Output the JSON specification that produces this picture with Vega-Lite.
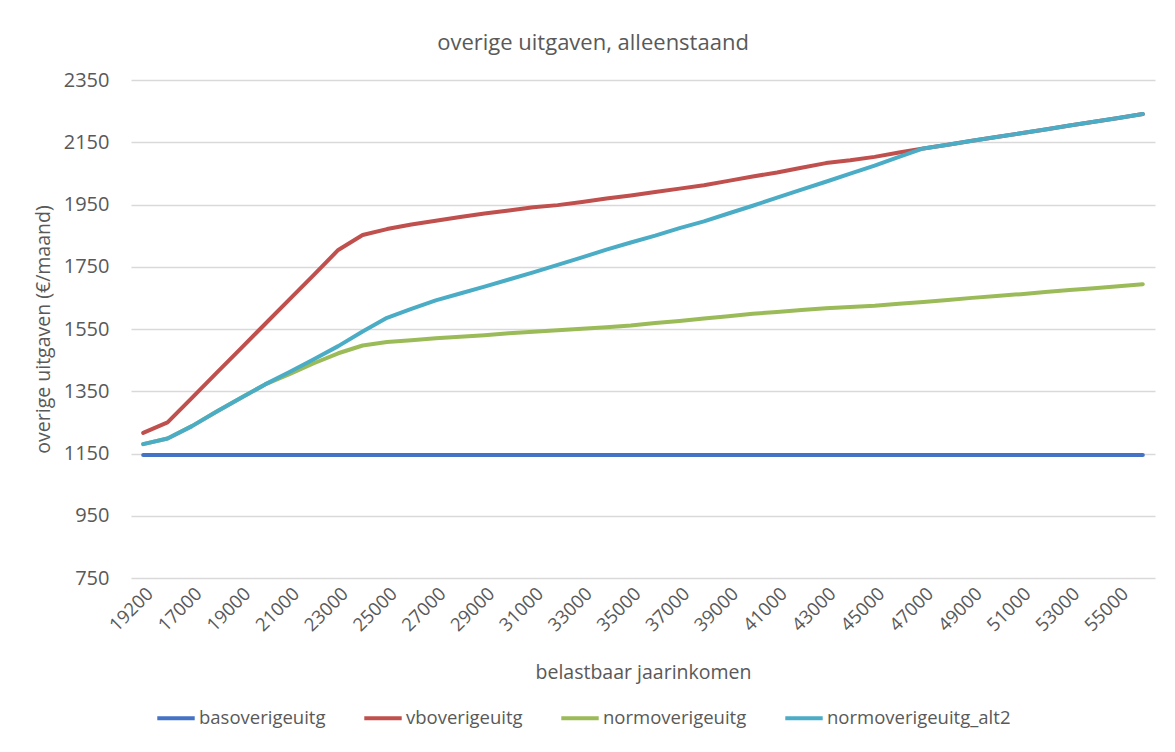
{
  "$schema": "https://vega.github.io/schema/vega-lite/v6.json",
  "width": 1024,
  "height": 498,
  "autosize": {"type": "none"},
  "padding": {"left": 131, "top": 80, "right": 20, "bottom": 174},
  "background": "white",
  "config": {
    "font": "Open Sans",
    "view": {"stroke": null},
    "axis": {"labelColor": "#595959", "titleColor": "#595959", "titleFontWeight": "normal"}
  },
  "title": {"text": "overige uitgaven, alleenstaand", "fontSize": 22, "fontWeight": "normal", "color": "#595959", "dx": -50, "offset": 15},
  "data": {
    "values": [
      {"inkomen":"19200","serie":"basoverigeuitg","waarde":1145},{"inkomen":"16000","serie":"basoverigeuitg","waarde":1145},{"inkomen":"17000","serie":"basoverigeuitg","waarde":1145},{"inkomen":"18000","serie":"basoverigeuitg","waarde":1145},{"inkomen":"19000","serie":"basoverigeuitg","waarde":1145},{"inkomen":"20000","serie":"basoverigeuitg","waarde":1145},{"inkomen":"21000","serie":"basoverigeuitg","waarde":1145},{"inkomen":"22000","serie":"basoverigeuitg","waarde":1145},{"inkomen":"23000","serie":"basoverigeuitg","waarde":1145},{"inkomen":"24000","serie":"basoverigeuitg","waarde":1145},{"inkomen":"25000","serie":"basoverigeuitg","waarde":1145},{"inkomen":"26000","serie":"basoverigeuitg","waarde":1145},{"inkomen":"27000","serie":"basoverigeuitg","waarde":1145},{"inkomen":"28000","serie":"basoverigeuitg","waarde":1145},{"inkomen":"29000","serie":"basoverigeuitg","waarde":1145},{"inkomen":"30000","serie":"basoverigeuitg","waarde":1145},{"inkomen":"31000","serie":"basoverigeuitg","waarde":1145},{"inkomen":"32000","serie":"basoverigeuitg","waarde":1145},{"inkomen":"33000","serie":"basoverigeuitg","waarde":1145},{"inkomen":"34000","serie":"basoverigeuitg","waarde":1145},{"inkomen":"35000","serie":"basoverigeuitg","waarde":1145},{"inkomen":"36000","serie":"basoverigeuitg","waarde":1145},{"inkomen":"37000","serie":"basoverigeuitg","waarde":1145},{"inkomen":"38000","serie":"basoverigeuitg","waarde":1145},{"inkomen":"39000","serie":"basoverigeuitg","waarde":1145},{"inkomen":"40000","serie":"basoverigeuitg","waarde":1145},{"inkomen":"41000","serie":"basoverigeuitg","waarde":1145},{"inkomen":"42000","serie":"basoverigeuitg","waarde":1145},{"inkomen":"43000","serie":"basoverigeuitg","waarde":1145},{"inkomen":"44000","serie":"basoverigeuitg","waarde":1145},{"inkomen":"45000","serie":"basoverigeuitg","waarde":1145},{"inkomen":"46000","serie":"basoverigeuitg","waarde":1145},{"inkomen":"47000","serie":"basoverigeuitg","waarde":1145},{"inkomen":"48000","serie":"basoverigeuitg","waarde":1145},{"inkomen":"49000","serie":"basoverigeuitg","waarde":1145},{"inkomen":"50000","serie":"basoverigeuitg","waarde":1145},{"inkomen":"51000","serie":"basoverigeuitg","waarde":1145},{"inkomen":"52000","serie":"basoverigeuitg","waarde":1145},{"inkomen":"53000","serie":"basoverigeuitg","waarde":1145},{"inkomen":"54000","serie":"basoverigeuitg","waarde":1145},{"inkomen":"55000","serie":"basoverigeuitg","waarde":1145},{"inkomen":"56000","serie":"basoverigeuitg","waarde":1145},

      {"inkomen":"19200","serie":"vboverigeuitg","waarde":1216},{"inkomen":"16000","serie":"vboverigeuitg","waarde":1250},{"inkomen":"17000","serie":"vboverigeuitg","waarde":1329},{"inkomen":"18000","serie":"vboverigeuitg","waarde":1408},{"inkomen":"19000","serie":"vboverigeuitg","waarde":1487},{"inkomen":"20000","serie":"vboverigeuitg","waarde":1566},{"inkomen":"21000","serie":"vboverigeuitg","waarde":1645},{"inkomen":"22000","serie":"vboverigeuitg","waarde":1724},{"inkomen":"23000","serie":"vboverigeuitg","waarde":1804},{"inkomen":"24000","serie":"vboverigeuitg","waarde":1852},{"inkomen":"25000","serie":"vboverigeuitg","waarde":1871},{"inkomen":"26000","serie":"vboverigeuitg","waarde":1886},{"inkomen":"27000","serie":"vboverigeuitg","waarde":1898},{"inkomen":"28000","serie":"vboverigeuitg","waarde":1910},{"inkomen":"29000","serie":"vboverigeuitg","waarde":1921},{"inkomen":"30000","serie":"vboverigeuitg","waarde":1931},{"inkomen":"31000","serie":"vboverigeuitg","waarde":1941},{"inkomen":"32000","serie":"vboverigeuitg","waarde":1948},{"inkomen":"33000","serie":"vboverigeuitg","waarde":1958},{"inkomen":"34000","serie":"vboverigeuitg","waarde":1969},{"inkomen":"35000","serie":"vboverigeuitg","waarde":1979},{"inkomen":"36000","serie":"vboverigeuitg","waarde":1990},{"inkomen":"37000","serie":"vboverigeuitg","waarde":2001},{"inkomen":"38000","serie":"vboverigeuitg","waarde":2012},{"inkomen":"39000","serie":"vboverigeuitg","waarde":2026},{"inkomen":"40000","serie":"vboverigeuitg","waarde":2040},{"inkomen":"41000","serie":"vboverigeuitg","waarde":2053},{"inkomen":"42000","serie":"vboverigeuitg","waarde":2068},{"inkomen":"43000","serie":"vboverigeuitg","waarde":2083},{"inkomen":"44000","serie":"vboverigeuitg","waarde":2092},{"inkomen":"45000","serie":"vboverigeuitg","waarde":2103},{"inkomen":"46000","serie":"vboverigeuitg","waarde":2117},{"inkomen":"47000","serie":"vboverigeuitg","waarde":2130},{"inkomen":"48000","serie":"vboverigeuitg","waarde":2142},{"inkomen":"49000","serie":"vboverigeuitg","waarde":2155},{"inkomen":"50000","serie":"vboverigeuitg","waarde":2167},{"inkomen":"51000","serie":"vboverigeuitg","waarde":2179},{"inkomen":"52000","serie":"vboverigeuitg","waarde":2191},{"inkomen":"53000","serie":"vboverigeuitg","waarde":2204},{"inkomen":"54000","serie":"vboverigeuitg","waarde":2216},{"inkomen":"55000","serie":"vboverigeuitg","waarde":2228},{"inkomen":"56000","serie":"vboverigeuitg","waarde":2241},

      {"inkomen":"19200","serie":"normoverigeuitg","waarde":1180},{"inkomen":"16000","serie":"normoverigeuitg","waarde":1198},{"inkomen":"17000","serie":"normoverigeuitg","waarde":1238},{"inkomen":"18000","serie":"normoverigeuitg","waarde":1284},{"inkomen":"19000","serie":"normoverigeuitg","waarde":1328},{"inkomen":"20000","serie":"normoverigeuitg","waarde":1372},{"inkomen":"21000","serie":"normoverigeuitg","waarde":1405},{"inkomen":"22000","serie":"normoverigeuitg","waarde":1440},{"inkomen":"23000","serie":"normoverigeuitg","waarde":1472},{"inkomen":"24000","serie":"normoverigeuitg","waarde":1497},{"inkomen":"25000","serie":"normoverigeuitg","waarde":1508},{"inkomen":"26000","serie":"normoverigeuitg","waarde":1514},{"inkomen":"27000","serie":"normoverigeuitg","waarde":1520},{"inkomen":"28000","serie":"normoverigeuitg","waarde":1525},{"inkomen":"29000","serie":"normoverigeuitg","waarde":1530},{"inkomen":"30000","serie":"normoverigeuitg","waarde":1536},{"inkomen":"31000","serie":"normoverigeuitg","waarde":1541},{"inkomen":"32000","serie":"normoverigeuitg","waarde":1546},{"inkomen":"33000","serie":"normoverigeuitg","waarde":1551},{"inkomen":"34000","serie":"normoverigeuitg","waarde":1556},{"inkomen":"35000","serie":"normoverigeuitg","waarde":1561},{"inkomen":"36000","serie":"normoverigeuitg","waarde":1569},{"inkomen":"37000","serie":"normoverigeuitg","waarde":1576},{"inkomen":"38000","serie":"normoverigeuitg","waarde":1584},{"inkomen":"39000","serie":"normoverigeuitg","waarde":1591},{"inkomen":"40000","serie":"normoverigeuitg","waarde":1599},{"inkomen":"41000","serie":"normoverigeuitg","waarde":1605},{"inkomen":"42000","serie":"normoverigeuitg","waarde":1611},{"inkomen":"43000","serie":"normoverigeuitg","waarde":1617},{"inkomen":"44000","serie":"normoverigeuitg","waarde":1621},{"inkomen":"45000","serie":"normoverigeuitg","waarde":1625},{"inkomen":"46000","serie":"normoverigeuitg","waarde":1631},{"inkomen":"47000","serie":"normoverigeuitg","waarde":1637},{"inkomen":"48000","serie":"normoverigeuitg","waarde":1643},{"inkomen":"49000","serie":"normoverigeuitg","waarde":1650},{"inkomen":"50000","serie":"normoverigeuitg","waarde":1656},{"inkomen":"51000","serie":"normoverigeuitg","waarde":1662},{"inkomen":"52000","serie":"normoverigeuitg","waarde":1669},{"inkomen":"53000","serie":"normoverigeuitg","waarde":1675},{"inkomen":"54000","serie":"normoverigeuitg","waarde":1681},{"inkomen":"55000","serie":"normoverigeuitg","waarde":1687},{"inkomen":"56000","serie":"normoverigeuitg","waarde":1694},

      {"inkomen":"19200","serie":"normoverigeuitg_alt2","waarde":1180},{"inkomen":"16000","serie":"normoverigeuitg_alt2","waarde":1198},{"inkomen":"17000","serie":"normoverigeuitg_alt2","waarde":1238},{"inkomen":"18000","serie":"normoverigeuitg_alt2","waarde":1284},{"inkomen":"19000","serie":"normoverigeuitg_alt2","waarde":1328},{"inkomen":"20000","serie":"normoverigeuitg_alt2","waarde":1372},{"inkomen":"21000","serie":"normoverigeuitg_alt2","waarde":1412},{"inkomen":"22000","serie":"normoverigeuitg_alt2","waarde":1453},{"inkomen":"23000","serie":"normoverigeuitg_alt2","waarde":1495},{"inkomen":"24000","serie":"normoverigeuitg_alt2","waarde":1542},{"inkomen":"25000","serie":"normoverigeuitg_alt2","waarde":1586},{"inkomen":"26000","serie":"normoverigeuitg_alt2","waarde":1615},{"inkomen":"27000","serie":"normoverigeuitg_alt2","waarde":1642},{"inkomen":"28000","serie":"normoverigeuitg_alt2","waarde":1664},{"inkomen":"29000","serie":"normoverigeuitg_alt2","waarde":1686},{"inkomen":"30000","serie":"normoverigeuitg_alt2","waarde":1709},{"inkomen":"31000","serie":"normoverigeuitg_alt2","waarde":1732},{"inkomen":"32000","serie":"normoverigeuitg_alt2","waarde":1756},{"inkomen":"33000","serie":"normoverigeuitg_alt2","waarde":1780},{"inkomen":"34000","serie":"normoverigeuitg_alt2","waarde":1805},{"inkomen":"35000","serie":"normoverigeuitg_alt2","waarde":1828},{"inkomen":"36000","serie":"normoverigeuitg_alt2","waarde":1850},{"inkomen":"37000","serie":"normoverigeuitg_alt2","waarde":1874},{"inkomen":"38000","serie":"normoverigeuitg_alt2","waarde":1896},{"inkomen":"39000","serie":"normoverigeuitg_alt2","waarde":1921},{"inkomen":"40000","serie":"normoverigeuitg_alt2","waarde":1946},{"inkomen":"41000","serie":"normoverigeuitg_alt2","waarde":1972},{"inkomen":"42000","serie":"normoverigeuitg_alt2","waarde":1998},{"inkomen":"43000","serie":"normoverigeuitg_alt2","waarde":2023},{"inkomen":"44000","serie":"normoverigeuitg_alt2","waarde":2049},{"inkomen":"45000","serie":"normoverigeuitg_alt2","waarde":2075},{"inkomen":"46000","serie":"normoverigeuitg_alt2","waarde":2103},{"inkomen":"47000","serie":"normoverigeuitg_alt2","waarde":2130},{"inkomen":"48000","serie":"normoverigeuitg_alt2","waarde":2142},{"inkomen":"49000","serie":"normoverigeuitg_alt2","waarde":2155},{"inkomen":"50000","serie":"normoverigeuitg_alt2","waarde":2167},{"inkomen":"51000","serie":"normoverigeuitg_alt2","waarde":2179},{"inkomen":"52000","serie":"normoverigeuitg_alt2","waarde":2191},{"inkomen":"53000","serie":"normoverigeuitg_alt2","waarde":2204},{"inkomen":"54000","serie":"normoverigeuitg_alt2","waarde":2216},{"inkomen":"55000","serie":"normoverigeuitg_alt2","waarde":2228},{"inkomen":"56000","serie":"normoverigeuitg_alt2","waarde":2241}
    ]
  },
  "mark": {"type": "line", "strokeWidth": 4, "strokeCap": "round", "strokeJoin": "round"},
  "encoding": {
    "x": {
      "field": "inkomen", "type": "ordinal", "sort": null,
      "scale": {"type": "point", "padding": 0.5},
      "axis": {
        "title": "belastbaar jaarinkomen", "titleFontSize": 19.5, "titlePadding": 29,
        "values": ["19200","17000","19000","21000","23000","25000","27000","29000","31000","33000","35000","37000","39000","41000","43000","45000","47000","49000","51000","53000","55000"],
        "labelAngle": -45, "labelFontSize": 18.5, "labelPadding": 6,
        "ticks": false, "grid": false, "domain": false
      }
    },
    "y": {
      "field": "waarde", "type": "quantitative",
      "scale": {"domain": [750, 2350], "nice": false, "zero": false},
      "axis": {
        "title": "overige uitgaven (€/maand)", "titleFontSize": 19.5, "titlePadding": 10,
        "values": [750, 950, 1150, 1350, 1550, 1750, 1950, 2150, 2350], "format": "d",
        "labelFontSize": 20, "labelPadding": 22, "ticks": false, "domain": false,
        "grid": true, "gridColor": "#D9D9D9", "gridWidth": 1.3
      }
    },
    "color": {
      "field": "serie", "type": "nominal",
      "sort": ["basoverigeuitg", "vboverigeuitg", "normoverigeuitg", "normoverigeuitg_alt2"],
      "scale": {"domain": ["basoverigeuitg", "vboverigeuitg", "normoverigeuitg", "normoverigeuitg_alt2"], "range": ["#4472C4", "#C0504D", "#9BBB59", "#4BACC6"]},
      "legend": {
        "title": null, "orient": "none", "direction": "horizontal",
        "legendX": 24, "legendY": 617,
        "symbolType": "stroke", "symbolStrokeWidth": 4, "symbolSize": 1400,
        "labelFontSize": 18.5, "labelColor": "#595959", "labelOffset": 2, "labelLimit": 0, "columnPadding": 30
      }
    },
    "order": {"field": "serie"}
  }
}
